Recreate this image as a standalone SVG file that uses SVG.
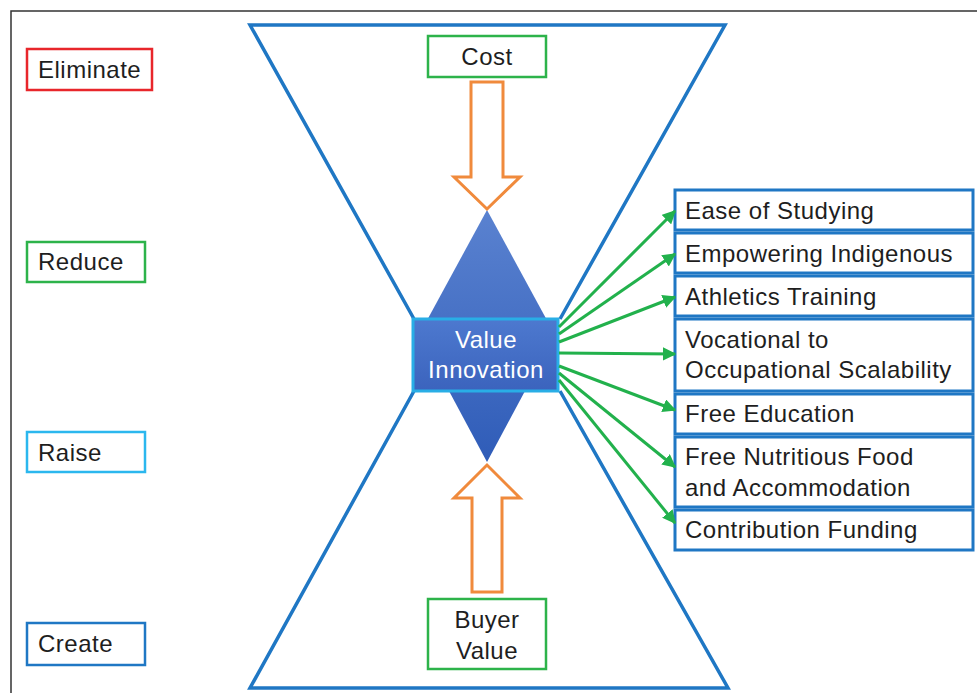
<svg xmlns="http://www.w3.org/2000/svg" width="977" height="693" viewBox="0 0 977 693">
  <style>
    text { font-family: "Liberation Sans", Arial, sans-serif; font-size: 24px; letter-spacing: 0.5px; fill: #1e1e1e; }
    .lbl { fill: #ffffff; stroke-width: 2.5; }
    .red { stroke: #e8262b; }
    .green { stroke: #2db34a; }
    .cyan { stroke: #2bb7ee; }
    .blue { stroke: #1f77c4; }
    .hour { fill: none; stroke: #1f77c4; stroke-width: 3.5; stroke-linejoin: miter; }
    .oarrow { fill: #ffffff; stroke: #f08a3c; stroke-width: 3; stroke-linejoin: miter; }
    .item { fill: #ffffff; stroke: #1f77c4; stroke-width: 3; }
    .conn { stroke: #22b14c; stroke-width: 3; fill: none; marker-end: url(#ah); }
    .mid { text-anchor: middle; }
    .white { fill: #ffffff; }
  </style>
  <defs>
    <marker id="ah" viewBox="0 0 10 10" refX="9" refY="5" markerWidth="4.5" markerHeight="4.5" orient="auto" markerUnits="strokeWidth">
      <path d="M0,0 L10,5 L0,10 Z" fill="#22b14c"/>
    </marker>
    <linearGradient id="dia" x1="0" y1="0" x2="0" y2="1">
      <stop offset="0" stop-color="#5a82d0"/>
      <stop offset="1" stop-color="#2f5cb8"/>
    </linearGradient>
    <linearGradient id="vibox" x1="0" y1="0" x2="0" y2="1">
      <stop offset="0" stop-color="#4d79cf"/>
      <stop offset="1" stop-color="#3b63bd"/>
    </linearGradient>
  </defs>

  <rect width="977" height="693" fill="#ffffff"/>
  <!-- page frame -->
  <path d="M11,693 L11,11 L977,11" fill="none" stroke="#333333" stroke-width="1.5"/>

  <!-- hourglass outline -->
  <g id="hourglass">
    <path class="hour" d="M414,319 L250,25 L725,25 L560,319"/>
    <path class="hour" d="M414,391 L250,688 L728,688 L560,391"/>
  </g>

  <!-- diamond behind the central box -->
  <g id="diamond">
    <path d="M487,210 L555,335 L487,462 L419,335 Z" fill="url(#dia)"/>
  </g>

  <!-- cost / buyer value arrows -->
  <g id="cost-arrow">
    <path class="oarrow" d="M471,82 L503,82 L503,177 L520,177 L487,209 L454,177 L471,177 Z"/>
  </g>
  <g id="value-arrow">
    <path class="oarrow" d="M472,592 L502,592 L502,498 L520,498 L487,465 L454,498 L472,498 Z"/>
  </g>

  <g id="cost">
    <rect class="lbl green" x="428" y="36" width="118" height="41"/>
    <text class="mid" x="487" y="65">Cost</text>
  </g>
  <g id="buyer-value">
    <rect class="lbl green" x="428" y="599" width="118" height="70"/>
    <text class="mid" x="487" y="628">Buyer</text>
    <text class="mid" x="487" y="659">Value</text>
  </g>

  <g id="value-innovation">
    <rect x="413" y="319" width="145" height="72" fill="url(#vibox)" stroke="#29aee6" stroke-width="3"/>
    <text class="mid white" x="486" y="348">Value</text>
    <text class="mid white" x="486" y="378">Innovation</text>
  </g>

  <!-- four actions -->
  <g id="eliminate">
    <rect class="lbl red" x="27" y="49" width="125" height="41"/>
    <text x="38" y="78">Eliminate</text>
  </g>
  <g id="reduce">
    <rect class="lbl green" x="27" y="242" width="118" height="40"/>
    <text x="38" y="270">Reduce</text>
  </g>
  <g id="raise">
    <rect class="lbl cyan" x="27" y="432" width="118" height="40"/>
    <text x="38" y="461">Raise</text>
  </g>
  <g id="create">
    <rect class="lbl blue" x="27" y="623" width="118" height="42"/>
    <text x="38" y="652">Create</text>
  </g>

  <!-- outcomes -->
  <g id="ease">
    <rect class="item" x="675" y="190" width="298" height="40"/>
    <text x="685" y="219">Ease of Studying</text>
  </g>
  <g id="empowering">
    <rect class="item" x="675" y="233" width="298" height="40"/>
    <text x="685" y="262">Empowering Indigenous</text>
  </g>
  <g id="athletics">
    <rect class="item" x="675" y="276" width="298" height="40"/>
    <text x="685" y="305">Athletics Training</text>
  </g>
  <g id="vocational">
    <rect class="item" x="675" y="319" width="298" height="72"/>
    <text x="685" y="348">Vocational to</text>
    <text x="685" y="378">Occupational Scalability</text>
  </g>
  <g id="free-education">
    <rect class="item" x="675" y="394" width="298" height="40"/>
    <text x="685" y="422">Free Education</text>
  </g>
  <g id="food">
    <rect class="item" x="675" y="437" width="298" height="70"/>
    <text x="685" y="465">Free Nutritious Food</text>
    <text x="685" y="496">and Accommodation</text>
  </g>
  <g id="funding">
    <rect class="item" x="675" y="510" width="298" height="40"/>
    <text x="685" y="538">Contribution Funding</text>
  </g>

  <!-- connectors from the central box -->
  <g id="connectors">
    <line class="conn" x1="559" y1="327" x2="675" y2="211"/>
    <line class="conn" x1="559" y1="334" x2="675" y2="254"/>
    <line class="conn" x1="559" y1="342" x2="675" y2="297"/>
    <line class="conn" x1="559" y1="353" x2="675" y2="354"/>
    <line class="conn" x1="559" y1="366" x2="675" y2="410"/>
    <line class="conn" x1="559" y1="373" x2="675" y2="467"/>
    <line class="conn" x1="559" y1="380" x2="675" y2="523"/>
  </g>
</svg>
